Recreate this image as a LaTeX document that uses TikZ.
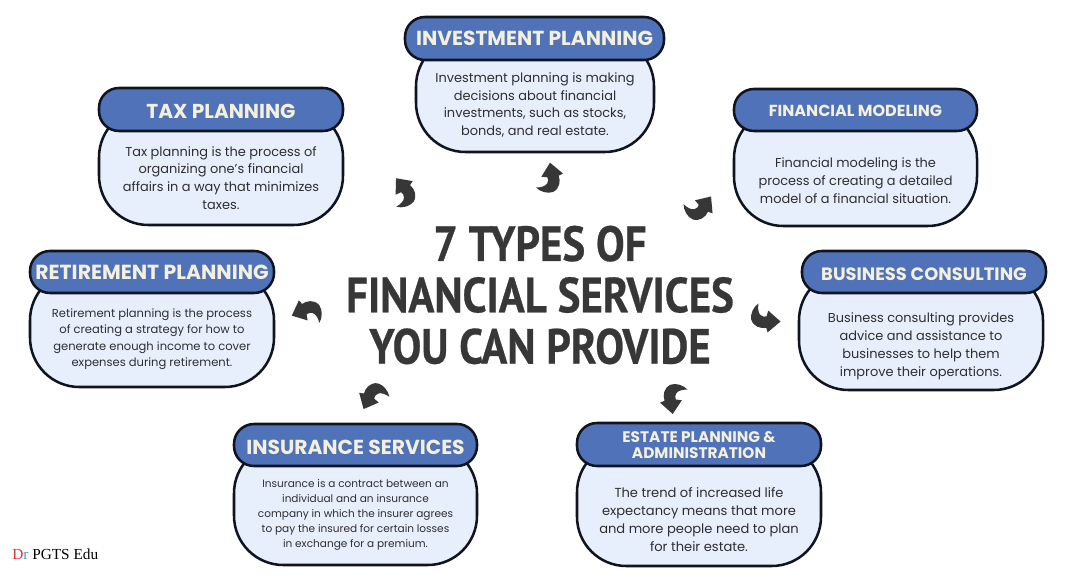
\documentclass[tikz,border=0pt]{standalone}
\usepackage{fontspec}
\setmainfont{Poppins}
\newfontfamily\serifwm{Liberation Serif}
\newfontfamily\titlefont[FakeStretch=0.87,BoldFeatures={FakeBold=0.5}]{PT Sans}
\definecolor{hdr}{HTML}{4F72B8}
\definecolor{bodyfill}{HTML}{E8EFFC}
\definecolor{edge}{HTML}{10141F}
\definecolor{cream}{HTML}{F4F0DC}
\definecolor{ink}{HTML}{2E2E30}
\definecolor{arrowc}{HTML}{373737}
\definecolor{wmred}{HTML}{E5303A}
\definecolor{wmblue}{HTML}{3A9BDC}
\tikzset{
  x=0.75pt,y=-0.75pt,
  cardbody/.style={draw=edge,line width=1.9pt,fill=bodyfill,rounded corners=37pt},
  cardhead/.style={draw=edge,line width=1.9pt,fill=hdr,rounded corners=15pt},
  headtext/.style={text=cream,font=\bfseries,align=center,inner sep=0pt},
  bodytext/.style={text=ink,align=center,inner sep=0pt},
  turn/.pic={\fill[arrowc,line join=round,scale=1.08]
    (0,-16) -- (12,-6) -- (8,-4)
    .. controls (10,1) and (9,8) .. (3,11)
    .. controls (-2,13) and (-9,11) .. (-13,7)
    .. controls (-9,7) and (-4,6) .. (-2.5,3)
    .. controls (-1.5,1) and (-1.5,-1) .. (-2.5,-2.5)
    -- (-8,-3) -- cycle;}
}
% name, hx0, hx1, hy0, hy1, bx0, bx1, by1, head size, head text, head leading, body size, leading, body cy
\newcommand\card[9]{%
  \def\cname{#1}\def\hxa{#2}\def\hxb{#3}\def\hya{#4}\def\hyb{#5}\def\bxa{#6}\def\bxb{#7}\def\byb{#8}\def\hsz{#9}\cardrest}
\newcommand\cardrest[5]{%
  \pgfmathsetmacro\byt{\hya+20}
  \fill[cardbody,draw=edge] (\bxa,\byt) rectangle (\bxb,\byb);
  \fill[cardhead,draw=edge] (\hxa,\hya) rectangle (\hxb,\hyb);
  \node[headtext,font=\fontsize{\hsz}{#2}\selectfont\bfseries] (\cname-head) at ({(\hxa+\hxb)/2},{(\hya+\hyb)/2+\hdy}) {#1};
  \node[bodytext,font=\fontsize{#3}{#4}\selectfont] (\cname-body) at ({(\bxa+\bxb)/2},#5) {\cbody};
}
\begin{document}
\begin{tikzpicture}
\useasboundingbox (0,0) rectangle (1080,580);
\fill[white] (0,0) rectangle (1080,580);

\def\hdy{0}
\def\cbody{Investment planning is making\\decisions about financial\\investments, such as stocks,\\bonds, and real estate.}
\card{inv}{405}{664}{17}{60}{416}{654}{152}{15.2}{INVESTMENT PLANNING}{15}{9.7}{13.4}{105}

\def\hdy{2}
\def\cbody{Tax planning is the process of\\organizing one's financial\\affairs in a way that minimizes\\taxes.}
\card{tax}{99}{343}{88}{131}{99}{343}{225}{15.1}{TAX PLANNING}{17}{9.7}{13.4}{178}

\def\hdy{1}
\def\cbody{Financial modeling is the\\process of creating a detailed\\model of a financial situation.}
\card{mod}{734}{977}{89}{131}{734}{977}{226}{12}{FINANCIAL MODELING}{14}{9.7}{13.4}{181}

\def\hdy{0}
\def\cbody{Retirement planning is the process\\of creating a strategy for how to\\generate enough income to cover\\expenses during retirement.}
\card{ret}{30}{274}{251}{293}{30}{274}{387}{15.3}{RETIREMENT PLANNING}{16}{8.65}{12.4}{339}

\def\hdy{2}
\def\cbody{Business consulting provides\\advice and assistance to\\businesses to help them\\improve their operations.}
\card{biz}{802}{1046}{251}{293}{799}{1043}{390}{13.4}{BUSINESS CONSULTING}{15}{9.7}{13.4}{346}

\def\hdy{2}
\def\cbody{Insurance is a contract between an\\individual and an insurance\\company in which the insurer agrees\\to pay the insured for certain losses\\in exchange for a premium.}
\card{ins}{234}{477}{424}{466}{234}{477}{565}{15.2}{INSURANCE SERVICES}{17}{7.9}{11.3}{515}

\def\hdy{1}
\def\cbody{The trend of increased life\\expectancy means that more\\and more people need to plan\\for their estate.}
\card{est}{577}{821}{423}{466}{577}{821}{566}{11.5}{ESTATE PLANNING \&\\ADMINISTRATION}{12}{9.8}{13.4}{519.5}

\node[text=arrowc,font=\titlefont\fontsize{37}{38.5}\selectfont\bfseries,align=center,inner sep=0pt] (title) at (540,295)
  {7 TYPES OF\\FINANCIAL SERVICES\\YOU CAN PROVIDE};

\pic at (550,180) {turn};
\pic[rotate=30] at (404.7,193.2) {turn};
\pic[rotate=-45] at (698.8,208.7) {turn};
\pic[rotate=-100] at (763.5,318.5) {turn};
\pic[rotate=178] at (673.3,396.7) {turn};
\pic[rotate=145] at (373.5,394.9) {turn};
\pic[rotate=105] at (308.5,311.2) {turn};

\node[font=\serifwm\fontsize{11.5}{12}\selectfont,anchor=west,inner sep=0pt] (wm) at (12,554)
  {\textcolor{wmred}{D}\textcolor{wmblue}{r} PGTS Edu};
\end{tikzpicture}
\end{document}
